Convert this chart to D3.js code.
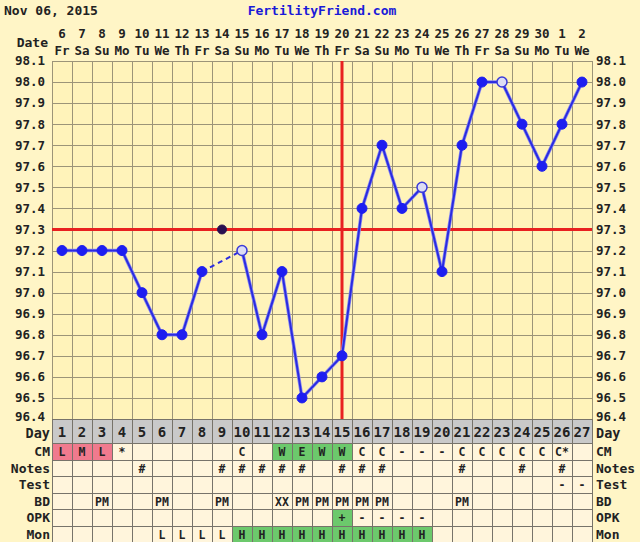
<!DOCTYPE html>
<html><head><meta charset="utf-8">
<script src="https://cdn.jsdelivr.net/npm/d3@7"></script>
<style>
html,body{margin:0;padding:0;background:#FFF5C6;}
svg{display:block;}
text{font-family:"DejaVu Sans Mono",monospace;font-weight:bold;}
</style></head>
<body>
<svg id="chart" width="640" height="542"></svg>
<script>
// ---- data ----
const headerDate = "Nov 06, 2015";
const siteName = "FertilityFriend.com";
const cycleDays = [1,2,3,4,5,6,7,8,9,10,11,12,13,14,15,16,17,18,19,20,21,22,23,24,25,26,27];
const dates = ["6","7","8","9","10","11","12","13","14","15","16","17","18","19","20","21","22","23","24","25","26","27","28","29","30","1","2"];
const weekdays = ["Fr","Sa","Su","Mo","Tu","We","Th","Fr","Sa","Su","Mo","Tu","We","Th","Fr","Sa","Su","Mo","Tu","We","Th","Fr","Sa","Su","Mo","Tu","We"];
const temps = [97.2,97.2,97.2,97.2,97.0,96.8,96.8,97.1,97.3,97.2,96.8,97.1,96.5,96.6,96.7,97.4,97.7,97.4,97.5,97.1,97.7,98.0,98.0,97.8,97.6,97.8,98.0];
// "f" filled, "o" open circle, "d" discarded
const pointKinds = ["f","f","f","f","f","f","f","f","d","o","f","f","f","f","f","f","f","f","o","f","f","f","o","f","f","f","f"];
const coverline = 97.3;
const ovulationDay = 15;
const yTicks = [96.4,96.5,96.6,96.7,96.8,96.9,97.0,97.1,97.2,97.3,97.4,97.5,97.6,97.7,97.8,97.9,98.0,98.1];
const cmRow    = ["L","M","L","*","","","","","","C","","W","E","W","W","C","C","-","-","-","C","C","C","C","C","C*",""];
const cmColor  = ["p","p","p","","","","","","","","","g","g","g","g","","","","","","","","","","","",""];
const notesRow = ["","","","","#","","","","#","#","#","#","#","","#","#","#","","","","#","","","#","","#",""];
const testRow  = ["","","","","","","","","","","","","","","","","","","","","","","","","","-","-"];
const bdRow    = ["","","PM","","","PM","","","PM","","","XX","PM","PM","PM","PM","PM","","","","PM","","","","","",""];
const opkRow   = ["","","","","","","","","","","","","","","+","-","-","-","-","","","","","","","",""];
const opkColor = ["","","","","","","","","","","","","","","g","","","","","","","","","","","",""];
const monRow   = ["","","","","","L","L","L","L","H","H","H","H","H","H","H","H","H","H","","","","","","","",""];
const monColor = ["","","","","","","","","","g","g","g","g","g","g","g","g","g","g","","","","","","","",""];
const rowLabels = ["CM","Notes","Test","BD","OPK","Mon"];

// ---- layout ----
const svg = d3.select("#chart");
const plotL = 52, plotR = 592, plotT = 61, plotB = 419;
const x = d3.scaleBand().domain(cycleDays).range([plotL, plotR]);
const y = d3.scaleLinear().domain([96.4, 98.1]).range([plotB, plotT]);
const cx = d => x(d) + x.bandwidth()/2;

const pink = "#F07A8E", green = "#6CC96C", cellBg = "#FFF5DC", gridC = "#9C9478", tableLine = "#77736a";

// header
svg.append("text").attr("x",4).attr("y",15).attr("font-size",13).attr("fill","#222").text(headerDate);
svg.append("text").attr("x",322).attr("y",15).attr("text-anchor","middle").attr("font-size",13).attr("fill","#1a1ad8").text(siteName);

// date header
svg.append("text").attr("x",48).attr("y",47).attr("text-anchor","end").attr("font-size",13).attr("fill","#222").text("Date");
svg.selectAll(".dnum").data(cycleDays).enter().append("text")
  .attr("x", d => cx(d)).attr("y", 38).attr("text-anchor","middle").attr("font-size",12.5).attr("fill","#222")
  .text((d,i) => dates[i]);
svg.selectAll(".wday").data(cycleDays).enter().append("text")
  .attr("x", d => cx(d)).attr("y", 55).attr("text-anchor","middle").attr("font-size",12.5).attr("fill","#222")
  .text((d,i) => weekdays[i]);

// plot background
svg.append("rect").attr("x",plotL).attr("y",plotT).attr("width",plotR-plotL).attr("height",plotB-plotT).attr("fill","#FFF3BA");

// grid
const g = svg.append("g");
g.selectAll(".hg").data(yTicks).enter().append("line")
  .attr("x1",plotL).attr("x2",plotR).attr("y1",d=>Math.round(y(d))+0.5).attr("y2",d=>Math.round(y(d))+0.5)
  .attr("stroke",gridC).attr("stroke-width",1);
g.selectAll(".vg").data(cycleDays.concat([28])).enter().append("line")
  .attr("x1",d=> (d<=27 ? x(d) : plotR)+0.5).attr("x2",d=> (d<=27 ? x(d) : plotR)+0.5)
  .attr("y1",plotT).attr("y2",plotB).attr("stroke",gridC).attr("stroke-width",1);

// y labels
svg.selectAll(".yl").data(yTicks).enter().append("text")
  .attr("x",45).attr("y",d=>y(d) - (d===96.4?2:0)).attr("dy","0.35em").attr("text-anchor","end").attr("font-size",12.5).attr("fill","#222")
  .text(d=>d.toFixed(1));
svg.selectAll(".yr").data(yTicks).enter().append("text")
  .attr("x",596).attr("y",d=>y(d) - (d===96.4?2:0)).attr("dy","0.35em").attr("text-anchor","start").attr("font-size",12.5).attr("fill","#222")
  .text(d=>d.toFixed(1));

// coverline and ovulation line
svg.append("line").attr("x1",plotL).attr("x2",plotR).attr("y1",y(coverline)).attr("y2",y(coverline))
  .attr("stroke","#E82020").attr("stroke-width",3);
svg.append("line").attr("x1",cx(ovulationDay)).attr("x2",cx(ovulationDay)).attr("y1",plotT).attr("y2",plotB)
  .attr("stroke","#E82020").attr("stroke-width",3);

// temperature line segments
const pts = cycleDays.map((d,i)=>({d, t:temps[i], k:pointKinds[i]}));
const valid = pts.filter(p=>p.k!=="d");
const segs = [];
for (let i=1;i<valid.length;i++){
  const a = valid[i-1], b = valid[i];
  segs.push({a,b,dashed: (b.d - a.d) > 1});
}
const lineG = svg.append("g");
lineG.selectAll(".halo").data(segs.filter(s=>!s.dashed)).enter().append("line")
  .attr("x1",s=>cx(s.a.d)).attr("y1",s=>y(s.a.t)).attr("x2",s=>cx(s.b.d)).attr("y2",s=>y(s.b.t))
  .attr("stroke","#8c8cf0").attr("stroke-width",3.5).attr("stroke-linecap","round");
lineG.selectAll(".seg").data(segs).enter().append("line")
  .attr("x1",s=>cx(s.a.d)).attr("y1",s=>y(s.a.t)).attr("x2",s=>cx(s.b.d)).attr("y2",s=>y(s.b.t))
  .attr("stroke","#2b2be0").attr("stroke-width",2)
  .attr("stroke-dasharray",s=>s.dashed?"5,4":null);

// points
svg.selectAll(".pt").data(pts).enter().append("circle")
  .attr("cx",p=>cx(p.d)).attr("cy",p=>y(p.t))
  .attr("r",p=>p.k==="d"?4.5:5)
  .attr("fill",p=>p.k==="f"?"#1e1ef0":(p.k==="o"?"#dcdcf4":"#2a1050"))
  .attr("stroke",p=>p.k==="o"?"#3a3ad8":(p.k==="d"?"#2a1050":"#1e1ef0"))
  .attr("stroke-width",p=>p.k==="o"?1.5:1);

// ---- table ----
const dayT = 419, dayH = 24, rowH = 16.5;
svg.selectAll(".dc").data(cycleDays).enter().append("rect")
  .attr("x",d=>x(d)+0.5).attr("y",dayT+0.5).attr("width",x.bandwidth()).attr("height",dayH)
  .attr("fill","#C9C9C9").attr("stroke",tableLine).attr("stroke-width",1);
svg.selectAll(".dt").data(cycleDays).enter().append("text")
  .attr("x",d=>cx(d)).attr("y",dayT+dayH/2+1).attr("dy","0.36em").attr("text-anchor","middle")
  .attr("font-size",14).attr("fill","#222").text(d=>d);
svg.append("text").attr("x",50).attr("y",dayT+dayH/2+2).attr("dy","0.36em").attr("text-anchor","end").attr("font-size",13.5).attr("fill","#222").text("Day");
svg.append("text").attr("x",596).attr("y",dayT+dayH/2+2).attr("dy","0.36em").attr("text-anchor","start").attr("font-size",13.5).attr("fill","#222").text("Day");

const rows = [
  {vals:cmRow, colors:cmColor},
  {vals:notesRow, colors:null},
  {vals:testRow, colors:null},
  {vals:bdRow, colors:null},
  {vals:opkRow, colors:opkColor},
  {vals:monRow, colors:monColor}
];
rows.forEach((r,ri)=>{
  const top = Math.round(dayT + dayH + ri*rowH);
  const rg = svg.append("g");
  rg.selectAll("rect").data(cycleDays).enter().append("rect")
    .attr("x",d=>x(d)+0.5).attr("y",top+0.5).attr("width",x.bandwidth()).attr("height",17)
    .attr("fill",(d,i)=>{ const c = r.colors ? r.colors[i] : ""; return c==="p"?pink:(c==="g"?green:cellBg); })
    .attr("stroke",tableLine).attr("stroke-width",1);
  rg.selectAll("text").data(cycleDays).enter().append("text")
    .attr("x",d=>cx(d)).attr("y",top+8.5).attr("dy","0.36em").attr("text-anchor","middle")
    .attr("font-size",11.5).attr("fill","#222").text((d,i)=>r.vals[i]);
  svg.append("text").attr("x",50).attr("y",top+8.5).attr("dy","0.36em").attr("text-anchor","end")
    .attr("font-size",13).attr("fill","#222").text(rowLabels[ri]);
  svg.append("text").attr("x",596).attr("y",top+8.5).attr("dy","0.36em").attr("text-anchor","start")
    .attr("font-size",13).attr("fill","#222").text(rowLabels[ri]);
});
</script>
</body></html>
